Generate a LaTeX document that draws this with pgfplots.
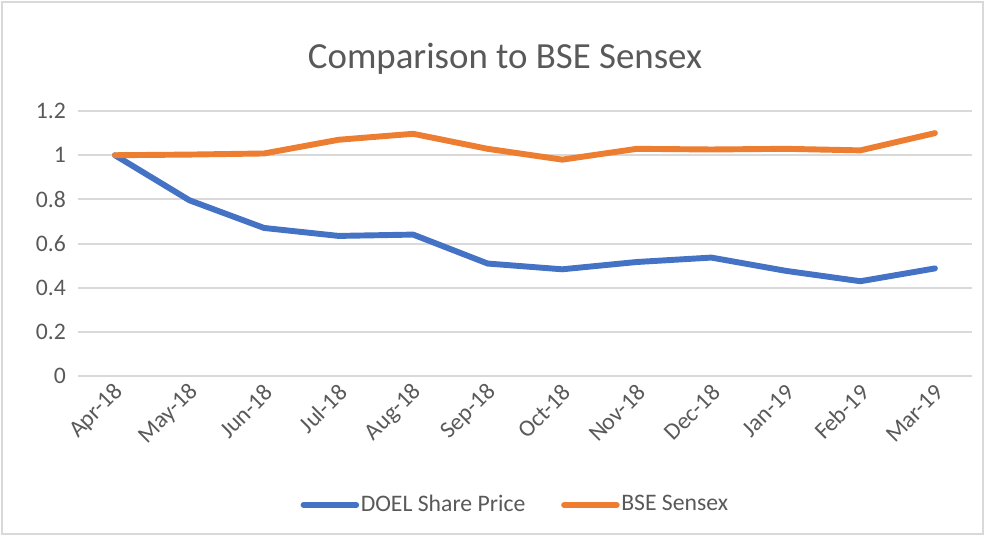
\documentclass[border=0pt]{standalone}
\usepackage{fontspec}
\setmainfont{Carlito}
\usepackage{pgfplots}
\pgfplotsset{compat=1.18}
\definecolor{doel}{RGB}{68,114,196}
\definecolor{bse}{RGB}{237,125,49}
\definecolor{txt}{RGB}{89,89,89}
\definecolor{gridc}{RGB}{217,217,217}
\begin{document}
\begin{tikzpicture}
\useasboundingbox (0pt,0pt) rectangle (374.3pt,203.68pt);
\draw[gridc, line width=0.75pt] (0.8pt,0.8pt) rectangle (373.5pt,202.9pt);
\node[txt, font=\fontsize{14}{16}\selectfont] at (191.9pt,181.3pt) {Comparison to BSE Sensex};
\begin{axis}[
  at={(29.53pt,60.69pt)}, anchor=south west,
  scale only axis, width=339.9pt, height=100.8pt,
  xmin=-0.5, xmax=11.5, ymin=0, ymax=1.2,
  xtick={0,...,11},
  xticklabels={Apr-18,May-18,Jun-18,Jul-18,Aug-18,Sep-18,Oct-18,Nov-18,Dec-18,Jan-19,Feb-19,Mar-19},
  ytick={0,0.2,0.4,0.6,0.8,1,1.2},
  yticklabels={0,0.2,0.4,0.6,0.8,1,1.2},
  axis line style={draw=none},
  major tick length=0pt,
  ymajorgrids, grid style={gridc, line width=0.75pt},
  tick label style={txt, font=\fontsize{9}{11}\selectfont},
  /pgf/number format/assume math mode=true,
  xticklabel style={rotate=45, anchor=east, xshift=1.5pt, yshift=-4.5pt},
  yticklabel style={xshift=-1pt},
  legend style={at={(0.489,-0.485)}, anchor=center, draw=none, fill=none,
    legend columns=2, font=\fontsize{9}{11}\selectfont, text=txt,
    nodes={inner xsep=0.6pt},
    /tikz/every even column/.append style={column sep=13pt},
    inner sep=0pt},
  legend cell align=left,
  legend image code/.code={\draw[#1, line cap=round] (0pt,0pt) -- (20pt,0pt);},
  every axis plot/.append style={line width=2.25pt, line cap=round, line join=round},
  clip=false,
]
\addplot[doel, mark=none] coordinates {
(0,1.0) (1,0.796) (2,0.671) (3,0.635) (4,0.641) (5,0.510)
(6,0.484) (7,0.517) (8,0.537) (9,0.477) (10,0.430) (11,0.488)};
\addlegendentry{DOEL Share Price}
\addplot[bse, mark=none] coordinates {
(0,1.0) (1,1.003) (2,1.008) (3,1.070) (4,1.097) (5,1.029)
(6,0.980) (7,1.029) (8,1.026) (9,1.029) (10,1.022) (11,1.100)};
\addlegendentry{BSE Sensex}
\end{axis}
\end{tikzpicture}
\end{document}
